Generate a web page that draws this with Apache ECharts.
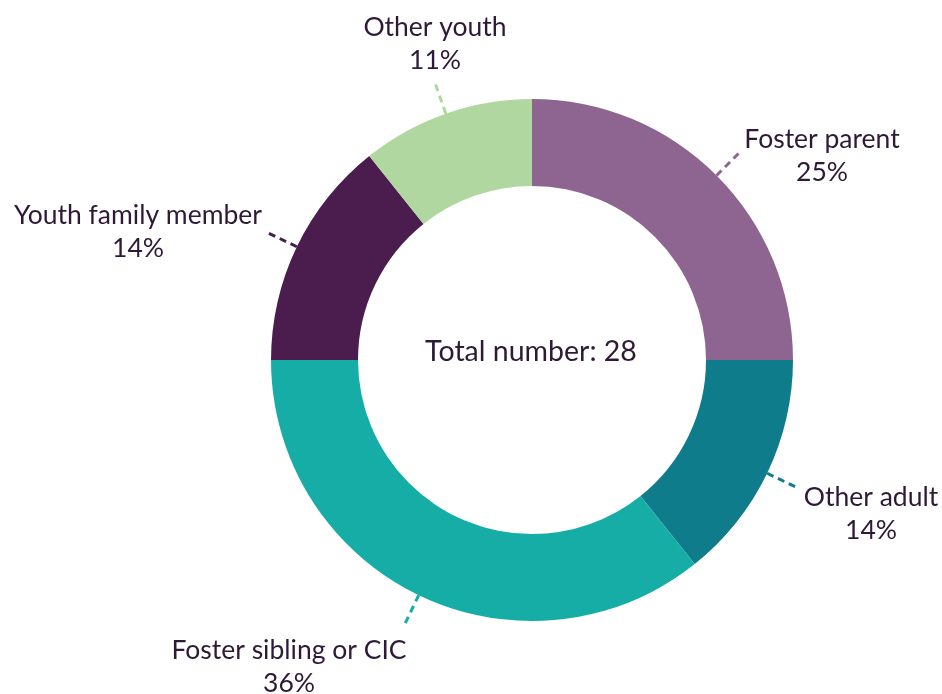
<!DOCTYPE html>
<html>
<head>
<meta charset="utf-8">
<script src="https://cdn.jsdelivr.net/npm/echarts@6/dist/echarts.min.js"></script>
<style>
html,body{margin:0;padding:0;background:#fff;}
#chart{width:942px;height:694px;}
</style>
</head>
<body>
<div id="chart"></div>
<script>
// Data
const categories = ['Foster parent', 'Other adult', 'Foster sibling or CIC', 'Youth family member', 'Other youth'];
const counts = [7, 4, 10, 4, 3];
const percentLabels = ['25%', '14%', '36%', '14%', '11%'];
const totalLabel = 'Total number: 28';

// Styles / layout (kept apart from data)
const colors = ['#8e6591', '#0e7c8b', '#15ada5', '#4b1d4f', '#b0d79f'];
const labelCenters = [[822, 156], [871, 514], [289, 667], [138, 232], [435, 44]];
const textColor = '#2e1a36';
const font = 'Lato';

const chart = echarts.init(document.getElementById('chart'), null, {renderer: 'canvas'});
const data = categories.map((c, i) => ({
  name: c,
  value: counts[i],
  itemStyle: {color: colors[i]},
  label: {formatter: c + '\n' + percentLabels[i]}
}));

chart.setOption({
  animation: false,
  graphic: [{
    type: 'text',
    x: 531,
    y: 352,
    style: {
      text: totalLabel,
      align: 'center',
      verticalAlign: 'middle',
      fontFamily: font,
      fontSize: 28.5,
      fill: textColor
    }
  }],
  series: [{
    type: 'pie',
    center: [532, 360],
    radius: [174, 261],
    startAngle: 90,
    clockwise: true,
    avoidLabelOverlap: false,
    data: data,
    itemStyle: {borderWidth: 0},
    label: {
      show: true,
      position: 'outside',
      color: textColor,
      fontFamily: font,
      fontSize: 26.5,
      lineHeight: 33,
      align: 'center'
    },
    labelLine: {
      show: true,
      length: 33,
      length2: 0,
      smooth: false,
      lineStyle: {width: 3, type: [7, 5]}
    },
    labelLayout: function (params) {
      const p = labelCenters[params.dataIndex];
      return {
        x: p[0],
        y: p[1],
        align: 'center',
        verticalAlign: 'middle',
        labelLinePoints: params.labelLinePoints
      };
    },
    emphasis: {disabled: true}
  }]
});
</script>
</body>
</html>
